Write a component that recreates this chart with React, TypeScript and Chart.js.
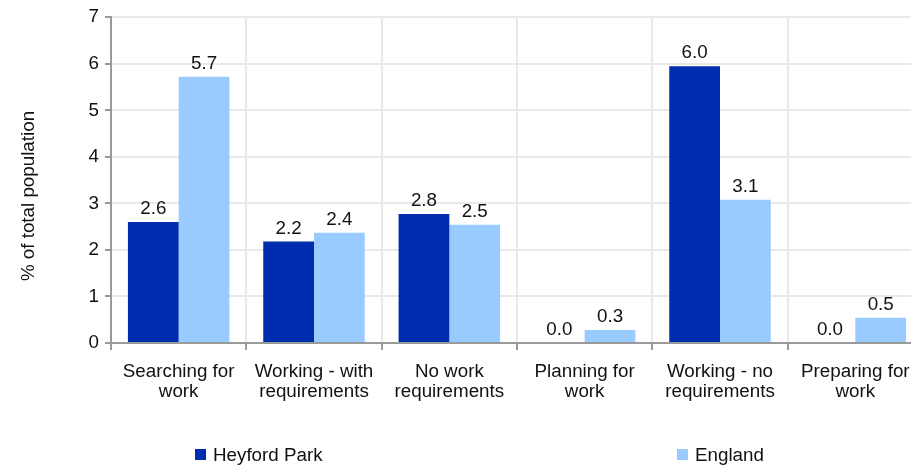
import React, { useEffect, useRef } from "react";
import { Chart, registerables } from "chart.js";

Chart.register(...registerables);

const categories: string[][] = [
  ["Searching for", "work"],
  ["Working - with", "requirements"],
  ["No work", "requirements"],
  ["Planning for", "work"],
  ["Working - no", "requirements"],
  ["Preparing for", "work"],
];
const heyfordPark = [2.6, 2.18, 2.77, 0, 5.95, 0];
const england = [5.72, 2.37, 2.54, 0.28, 3.08, 0.54];
const seriesNames = ["Heyford Park", "England"];
const seriesColors = ["#002db0", "#99cbff"];
const yTitle = "% of total population";
const FONT = "'Liberation Sans', Arial, sans-serif";
const FS = 18.8;

const dataLabels = {
  id: "dataLabels",
  afterDatasetsDraw(chart: any) {
    const ctx = chart.ctx;
    ctx.save();
    ctx.font = `${FS}px ${FONT}`;
    ctx.fillStyle = "#111";
    ctx.textAlign = "center";
    ctx.textBaseline = "alphabetic";
    chart.data.datasets.forEach((ds: any, i: number) => {
      const meta = chart.getDatasetMeta(i);
      meta.data.forEach((bar: any, j: number) => {
        const v = ds.data[j] as number;
        ctx.fillText(v.toFixed(1), bar.x, bar.y - 8);
      });
    });
    ctx.restore();
  },
};

const extras = {
  id: "extras",
  afterDraw(chart: any) {
    const ctx = chart.ctx;
    ctx.save();
    ctx.font = `${FS}px ${FONT}`;
    ctx.textBaseline = "alphabetic";
    ctx.textAlign = "left";
    const xs = [195, 677];
    seriesNames.forEach((name, i) => {
      ctx.fillStyle = seriesColors[i];
      ctx.fillRect(xs[i], 449, 11, 11);
      ctx.fillStyle = "#111";
      ctx.fillText(name, xs[i] + 18, 461);
    });
    // y-axis title
    ctx.textBaseline = "middle";
    ctx.translate(29, 196);
    ctx.rotate(-Math.PI / 2);
    ctx.textAlign = "center";
    ctx.fillStyle = "#111";
    ctx.fillText(yTitle, 0, 0);
    ctx.restore();
  },
};

export default function App() {
  const ref = useRef<HTMLCanvasElement | null>(null);
  useEffect(() => {
    if (!ref.current) return;
    const chart = new Chart(ref.current, {
      type: "bar",
      data: {
        labels: categories,
        datasets: [
          { label: seriesNames[0], data: heyfordPark, backgroundColor: seriesColors[0] },
          { label: seriesNames[1], data: england, backgroundColor: seriesColors[1] },
        ],
      },
      options: {
        animation: false,
        responsive: true,
        maintainAspectRatio: false,
        layout: { padding: { top: 9, right: 4, bottom: 61, left: 0 } },
        datasets: { bar: { barPercentage: 1, categoryPercentage: 0.75 } },
        plugins: {
          legend: { display: false },
          tooltip: { enabled: false },
        },
        scales: {
          x: {
            grid: { color: "#e9e9e9", lineWidth: 2, tickLength: 7, tickColor: "#9a9a9a", tickWidth: 2 },
            border: { color: "#9a9a9a", width: 2 },
            ticks: { color: "#111", font: { family: FONT, size: FS, lineHeight: 1.064 }, maxRotation: 0, autoSkip: false, padding: 12 },
            afterFit: (s: any) => { s.height = 61; },
          },
          y: {
            min: 0,
            max: 7,
            grid: { color: "#e9e9e9", lineWidth: 2, tickLength: 6, tickColor: "#9a9a9a", tickWidth: 2 },
            border: { color: "#9a9a9a", width: 2 },
            ticks: { stepSize: 1, color: "#111", font: { family: FONT, size: FS }, padding: 6 },
            afterFit: (s: any) => { s.width = 111; },
          },
        },
      },
      plugins: [dataLabels, extras],
    });
    return () => chart.destroy();
  }, []);
  return (
    <div style={{ position: "fixed", left: 0, top: 0, width: 911, height: 465, overflow: "hidden", background: "#fff" }}>
      <div style={{ position: "absolute", left: 0, top: 0, width: 927, height: 465 }}>
        <canvas ref={ref} />
      </div>
    </div>
  );
}
